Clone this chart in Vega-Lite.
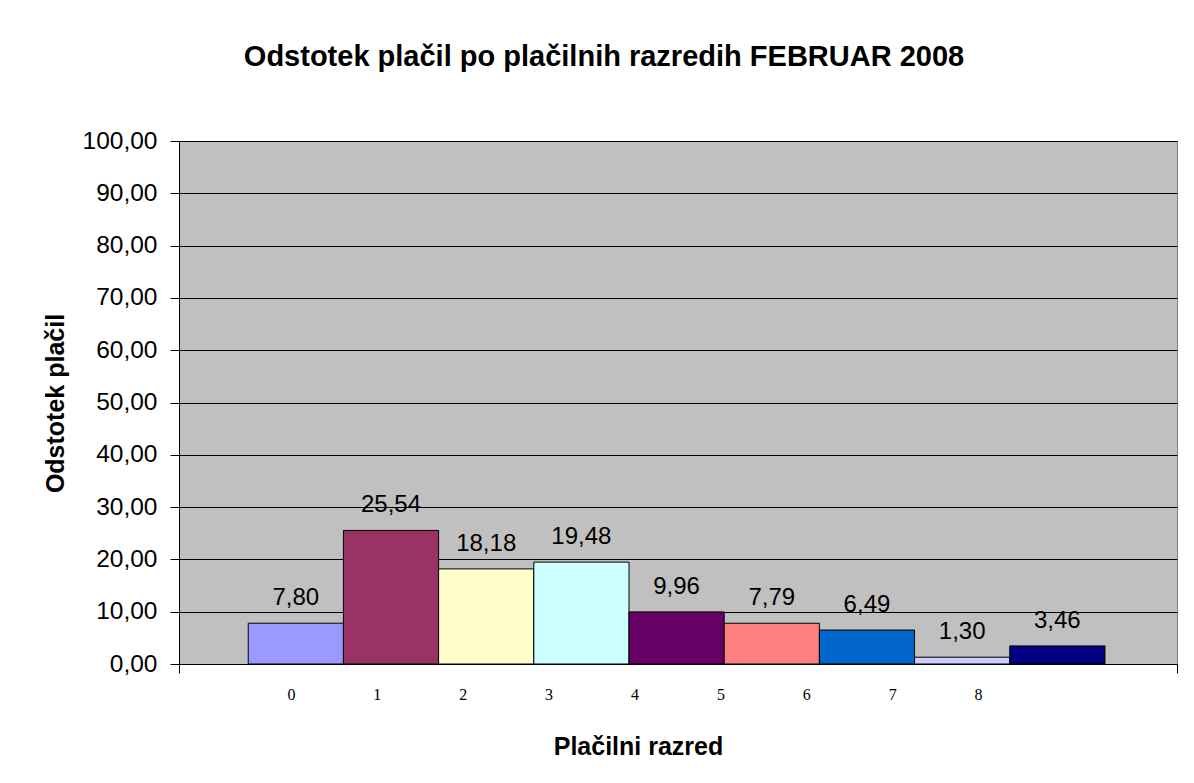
{
  "$schema": "https://vega.github.io/schema/vega-lite/v6.json",
  "width": 998,
  "height": 523,
  "autosize": {"type": "none"},
  "padding": {"left": 179, "top": 141, "right": 17, "bottom": 119},
  "background": "white",
  "config": {
    "locale": {"number": {"decimal": ",", "thousands": ".", "grouping": [3], "currency": ["", " €"]}},
    "view": {"fill": "#C0C0C0", "stroke": "#808080", "strokeWidth": 1},
    "font": "Liberation Sans"
  },
  "title": {
    "text": "Odstotek plačil po plačilnih razredih FEBRUAR 2008",
    "font": "Liberation Sans",
    "fontSize": 29,
    "fontWeight": "bold",
    "color": "black",
    "anchor": "middle",
    "frame": "group",
    "dx": -74,
    "offset": 56
  },
  "data": {
    "values": [
      {"razred": 0, "odstotek": 7.80},
      {"razred": 1, "odstotek": 25.54},
      {"razred": 2, "odstotek": 18.18},
      {"razred": 3, "odstotek": 19.48},
      {"razred": 4, "odstotek": 9.96},
      {"razred": 5, "odstotek": 7.79},
      {"razred": 6, "odstotek": 6.49},
      {"razred": 7, "odstotek": 1.30},
      {"razred": 8, "odstotek": 3.46}
    ]
  },
  "layer": [
    {
      "encoding": {
        "x": {
          "field": "razred",
          "type": "ordinal",
          "scale": {"type": "band", "paddingInner": 0, "paddingOuter": 0.742, "align": 0.49},
          "axis": null
        },
        "y": {
          "field": "odstotek",
          "type": "quantitative",
          "scale": {"domain": [0, 100], "nice": false, "zero": true},
          "axis": {
            "values": [0, 10, 20, 30, 40, 50, 60, 70, 80, 90, 100],
            "format": ".2f",
            "grid": true,
            "gridColor": "black",
            "gridWidth": 1,
            "domainColor": "black",
            "tickColor": "black",
            "tickSize": 9,
            "labelFont": "Liberation Sans",
            "labelFontSize": 24.5,
            "labelColor": "black",
            "labelPadding": 13,
            "labelFlush": false,
            "labelOverlap": false,
            "title": "Odstotek plačil",
            "titleFont": "Liberation Sans",
            "titleFontSize": 25,
            "titleFontWeight": "bold",
            "titleColor": "black",
            "titleX": -116,
            "titleY": 262,
            "titleBaseline": "alphabetic"
          }
        }
      },
      "layer": [
        {
          "mark": {"type": "bar", "stroke": "black", "strokeWidth": 1},
          "encoding": {
            "color": {
              "field": "razred",
              "type": "nominal",
              "scale": {"range": ["#9999FF", "#993366", "#FFFFCC", "#CCFFFF", "#660066", "#FF8080", "#0066CC", "#CCCCFF", "#000080"]},
              "legend": null
            }
          }
        },
        {
          "mark": {"type": "text", "dy": -18, "baseline": "alphabetic", "fontSize": 24, "font": "Liberation Sans", "color": "black"},
          "encoding": {
            "text": {"field": "odstotek", "type": "quantitative", "format": ".2f"}
          }
        }
      ]
    },
    {
      "mark": {"type": "point", "opacity": 0},
      "encoding": {
        "x": {
          "field": "razred",
          "type": "quantitative",
          "scale": {"domain": [-1.304, 10.317], "nice": false, "zero": false},
          "axis": {
            "orient": "bottom",
            "values": [-1.304, 0, 1, 2, 3, 4, 5, 6, 7, 8, 10.317],
            "labelExpr": "datum.value < -0.5 || datum.value > 8.5 ? '' : format(datum.value, 'd')",
            "labelFont": "Liberation Serif",
            "labelFontSize": 16,
            "labelColor": "black",
            "labelPadding": 13,
            "labelFlush": false,
            "labelOverlap": false,
            "tickSize": 9,
            "tickColor": "black",
            "tickOpacity": {"condition": {"test": "datum.value < -0.5 || datum.value > 8.5", "value": 1}, "value": 0},
            "domainColor": "black",
            "grid": false,
            "title": "Plačilni razred",
            "titleFont": "Liberation Sans",
            "titleFontSize": 25,
            "titleFontWeight": "bold",
            "titleColor": "black",
            "titleX": 459,
            "titleY": 90,
            "titleBaseline": "alphabetic"
          }
        }
      }
    }
  ],
  "resolve": {"scale": {"x": "independent"}}
}
